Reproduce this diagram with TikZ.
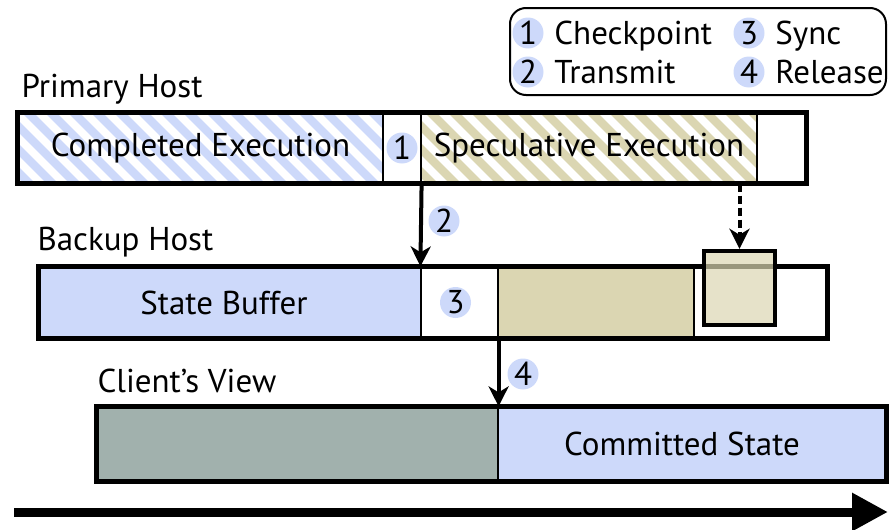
\documentclass[tikz,border=0pt]{standalone}
\usepackage{fontspec}
\setmainfont{PT Sans}
\usetikzlibrary{arrows.meta,positioning,fit}

\definecolor{stateblue}{RGB}{205,217,250}
\definecolor{specbeige}{RGB}{219,214,178}
\definecolor{viewgray}{RGB}{161,177,173}

\tikzset{
  every node/.style={font=\fontsize{16.5}{18}\selectfont},
  seg/.style={draw, line width=0.6pt, inner sep=0pt, fit={#1}},
  hatch/.style={path picture={
    \foreach \k in {0,...,32}
      \draw[#1, line width=4.2pt, shift={(path picture bounding box.center)}] (\k*23-360,-60) -- ++(120,120);
  }},
  frame/.style={draw, line width=2.2pt, inner sep=0pt},
  num/.style={circle, fill=stateblue, inner sep=0pt, minimum size=15.5pt},
  hosttitle/.style={inner sep=0pt, anchor=base west},
  flow/.style={line width=2pt, -{Stealth[length=10pt,width=10pt,inset=3pt]}},
}

\begin{document}
\begin{tikzpicture}[x=0.5pt,y=-0.5pt]
\useasboundingbox (0,0) rectangle (891,530);

% primary host
\node[seg={(18,113) (383,183)}, hatch=stateblue] (done) {};
\node[seg={(383,113) (421,183)}] (ckpt) {};
\node[seg={(421,113) (757,183)}, hatch=specbeige] (spec) {};
\node[seg={(757,113) (806,183)}] (ptail) {};
\node[frame, fit=(done) (ptail)] (primary) {};
\node (donetext) at (done.center) {Completed Execution};
\node (spectext) at (spec.center) {Speculative Execution};
\node[hosttitle, above right=6.5pt and 3pt of primary.north west, anchor=base west] (ptitle) {Primary Host};

% backup host
\node[seg={(39,267) (421,338)}, fill=stateblue] (buffer) {};
\node[seg={(421,267) (498,338)}] (sync) {};
\node[seg={(498,267) (694,338)}, fill=specbeige] (pending) {};
\node[seg={(694,267) (827,338)}] (btail) {};
\node[frame, fit=(buffer) (btail)] (backup) {};
\node[frame, fill=specbeige, fill opacity=0.7, fit={(704,251) (775,325)}] (copy) {};
\node (buffertext) at ([xshift=-3pt]buffer.center) {State Buffer};
\node[hosttitle, above right=7pt and 0.5pt of backup.north west, anchor=base west] (btitle) {Backup Host};

% client
\node[seg={(97,407) (498,481)}, fill=viewgray] (held) {};
\node[seg={(498,407) (886,481)}, fill=stateblue] (committed) {};
\node[frame, fit=(held) (committed)] (client) {};
\node (committedtext) at ([xshift=-5pt]committed.center) {Committed State};
\node[hosttitle, above right=6pt and 1.5pt of client.north west, anchor=base west] (ctitle) {Client’s View};

% steps
\node[num] (n1) at (ckpt.center) {1};
\node[num] (n3) at ([xshift=-2pt]sync.center) {3};
\node[num] (n2) at (444,221) {2};
\node[num] (n4) at (523,374) {4};

\draw[flow] (ckpt.south east) -- (sync.north west);
\draw[flow, dash pattern=on 4pt off 2pt] (spec.south -| copy.north) -- (copy.north);
\draw[flow] (sync.south east) -- (held.north east);

% time
\coordinate (tstart) at (14,512);
\coordinate (tend) at (888,512);
\draw[line width=4.5pt, -{Triangle[length=18pt,width=18pt]}] (tstart) -- (tend);

% legend
\node[draw, line width=1pt, rounded corners=8pt, inner sep=0pt, fit={(510,8) (886,95)}] (legend) {};
\foreach \i/\x/\y/\what in {1/528/33/Checkpoint, 2/528/72/Transmit, 3/749/33/Sync, 4/749/72/Release}
{
  \node[num] (l\i) at (\x,\y) {\i};
  \node[right=13pt of l\i.base, anchor=base west, inner sep=0pt] (t\i) {\what};
}

\end{tikzpicture}
\end{document}
